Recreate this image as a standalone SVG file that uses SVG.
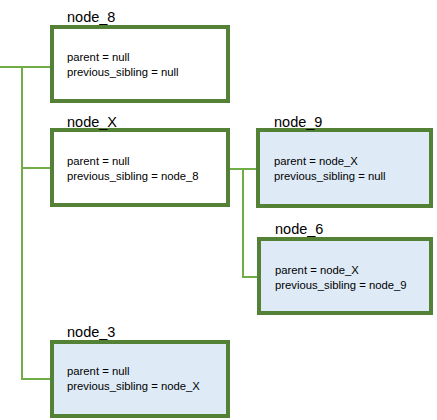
<svg xmlns="http://www.w3.org/2000/svg" width="437" height="420" viewBox="0 0 437 420">
<style>
.box{stroke:#538135;stroke-width:4;}
.white{fill:#ffffff;}
.blue{fill:#DEEBF7;}
.title{font-family:"Liberation Sans",Arial,sans-serif;font-size:14.5px;fill:#000;}
.body{font-family:"Liberation Sans",Arial,sans-serif;font-size:11.3px;fill:#000;}
.conn{stroke:#70AD47;stroke-width:2;fill:none;}
</style>
<rect width="437" height="420" fill="#ffffff"/>
<g id="connectors">
<path class="conn" d="M0,67 H52"/>
<path class="conn" d="M22,67 V379 H52"/>
<path class="conn" d="M22,168 H52"/>
<path class="conn" d="M229,169 H258"/>
<path class="conn" d="M243,169 V277 H259"/>
</g>
<g id="node_8">
<rect class="box white" x="52" y="27" width="176" height="74"/>
<text class="title" x="67" y="22">node_8</text>
<text class="body" x="67" y="61">parent = null</text>
<text class="body" x="67" y="76">previous_sibling = null</text>
</g>
<g id="node_X">
<rect class="box white" x="52" y="130" width="176" height="75"/>
<text class="title" x="67" y="127">node_X</text>
<text class="body" x="67" y="165">parent = null</text>
<text class="body" x="67" y="180">previous_sibling = node_8</text>
</g>
<g id="node_9">
<rect class="box blue" x="258" y="130" width="173" height="76"/>
<text class="title" x="274" y="127">node_9</text>
<text class="body" x="274" y="165">parent = node_X</text>
<text class="body" x="274" y="180">previous_sibling = null</text>
</g>
<g id="node_6">
<rect class="box blue" x="259" y="239" width="172" height="74"/>
<text class="title" x="275" y="234">node_6</text>
<text class="body" x="275" y="274">parent = node_X</text>
<text class="body" x="275" y="289">previous_sibling = node_9</text>
</g>
<g id="node_3">
<rect class="box blue" x="52" y="342" width="176" height="74"/>
<text class="title" x="67" y="337">node_3</text>
<text class="body" x="67" y="375">parent = null</text>
<text class="body" x="67" y="390">previous_sibling = node_X</text>
</g>
</svg>
